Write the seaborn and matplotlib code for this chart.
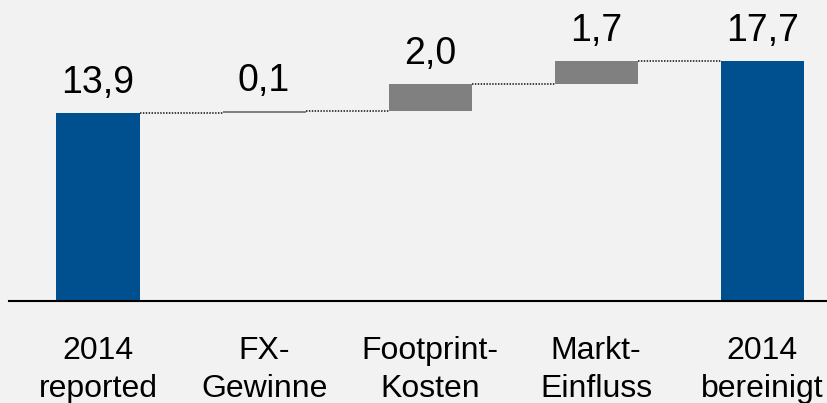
import matplotlib
matplotlib.use("Agg")
import matplotlib.pyplot as plt
import seaborn as sns
import numpy as np

categories = ["2014\nreported", "FX-\nGewinne", "Footprint-\nKosten", "Markt-\nEinfluss", "2014\nbereinigt"]
values = [13.9, 0.1, 2.0, 1.7, 17.7]
is_total = [True, False, False, False, True]
value_labels = ["13,9", "0,1", "2,0", "1,7", "17,7"]

BLUE = "#00508F"
GREY = "#808080"
BG = "#F2F2F2"

sns.set_style("white")
plt.rcParams["font.family"] = ["Liberation Sans", "DejaVu Sans"]

# waterfall geometry from data
bottoms, tops = [], []
running = 0.0
for v, t in zip(values, is_total):
    if t:
        bottoms.append(0.0)
        tops.append(v)
        running = v
    else:
        bottoms.append(running)
        running += v
        tops.append(running)
heights = [t - b for t, b in zip(tops, bottoms)]

fig = plt.figure(figsize=(8.27, 4.03), dpi=100, facecolor=BG)
ax = fig.add_axes([9 / 827, 102 / 403, 1 - 9 / 827, 301 / 403])
ax.set_facecolor(BG)

sns.barplot(x=list(range(len(categories))), y=heights, bottom=bottoms,
            color=GREY, width=0.5, ax=ax, saturation=1, linewidth=0)
for p, t in zip(ax.patches, is_total):
    p.set_facecolor(BLUE if t else GREY)

# connectors
for i in range(len(values) - 1):
    ax.plot([i + 0.25, i + 0.75], [tops[i], tops[i]], color="#303030",
            lw=1.3, ls=(0, (0.8, 0.8)), solid_capstyle="butt")

for i, (lab, top) in enumerate(zip(value_labels, tops)):
    ax.annotate(lab, (i, top), xytext=(0, 14.4), textcoords="offset points",
                ha="center", va="baseline", fontsize=27, color="black")

ax.set_xlim(-0.536, 4.39)
ax.set_ylim(0, 22.2)
ax.set_yticks([])
ax.set_xticks(range(len(categories)))
ax.set_xticklabels(categories, fontsize=23, linespacing=1.36, color="black")
ax.tick_params(axis="x", length=0, pad=25, colors="black")
for s in ["top", "right", "left"]:
    ax.spines[s].set_visible(False)
ax.spines["bottom"].set_color("black")
ax.spines["bottom"].set_linewidth(1.5)
ax.set_xlabel("")

fig.savefig("out.png", dpi=100, facecolor=BG)
